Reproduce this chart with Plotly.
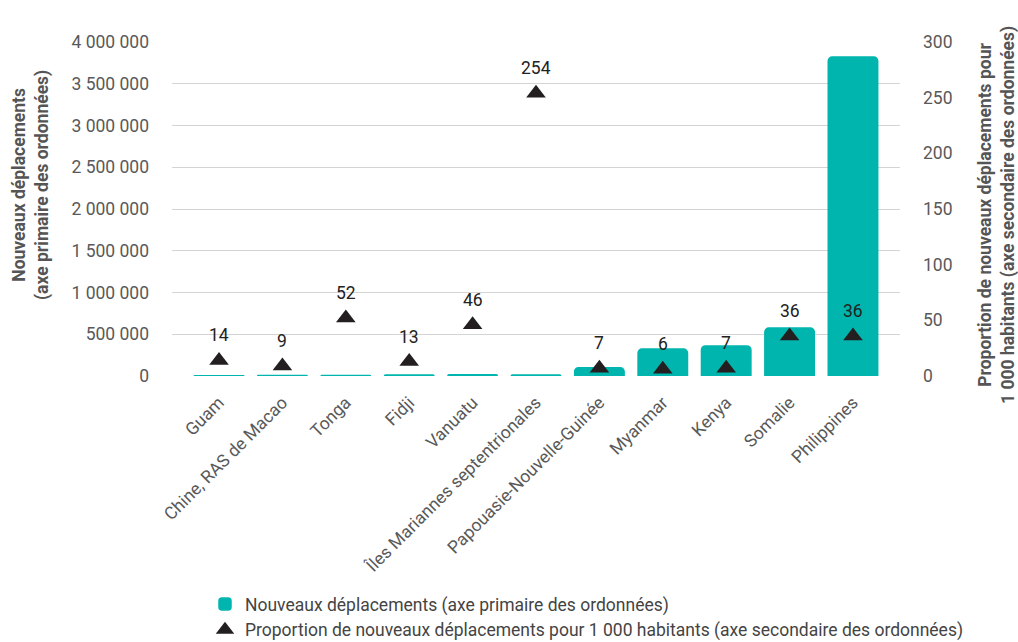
import plotly.graph_objects as go

# Countries, new displacements (bars, left axis) and displacements per 1 000 inhabitants (triangles, right axis)
countries = [
    "Guam", "Chine, RAS de Macao", "Tonga", "Fidji", "Vanuatu",
    "Îles Mariannes septentrionales", "Papouasie-Nouvelle-Guinée",
    "Myanmar", "Kenya", "Somalie", "Philippines",
]
new_displacements = [2400, 6100, 5500, 12000, 14700, 12000, 99000, 323000, 360000, 575000, 3820000]
per_1000 = [14, 9, 52, 13, 46, 254, 7, 6, 7, 36, 36]

left_ticks = [0, 500000, 1000000, 1500000, 2000000, 2500000, 3000000, 3500000, 4000000]
left_tick_text = ["0", "500 000", "1 000 000", "1 500 000", "2 000 000", "2 500 000",
                  "3 000 000", "3 500 000", "4 000 000"]
right_ticks = [0, 50, 100, 150, 200, 250, 300]

TEAL = "#00b5ad"
GRID = "#d4d4d4"
TICK_GREY = "#595959"
FONT = "Roboto"
FS = 17.5

# plot area in pixels
L, R, T, B = 172, 118, 42, 266
W, H = 1018, 642
plot_w = W - L - R
plot_h = H - T - B


def px_x(x):
    return (x - L) / plot_w


def px_y(y):
    return (H - B - y) / plot_h


fig = go.Figure()

fig.add_trace(go.Bar(
    x=countries,
    y=new_displacements,
    name="Nouveaux déplacements (axe primaire des ordonnées)",
    marker=dict(color=TEAL, line=dict(color=TEAL, width=1.5), cornerradius=4),
    yaxis="y",
    hoverinfo="x+y",
))

fig.add_trace(go.Scatter(
    x=countries,
    y=per_1000,
    name="Proportion de nouveaux déplacements pour 1 000 habitants (axe secondaire des ordonnées)",
    mode="markers",
    marker=dict(symbol="triangle-up", size=17, color="#231f20"),
    yaxis="y2",
))

# value labels above each triangle
for c, v in zip(countries, per_1000):
    fig.add_annotation(
        x=c, y=v, xref="x", yref="y2",
        text=str(v), showarrow=False, yshift=25, yanchor="middle",
        font=dict(family=FONT, size=FS, color="#222222"),
    )

# axis titles
fig.add_annotation(
    x=px_x(31), y=px_y(185), xref="paper", yref="paper", showarrow=False,
    xanchor="center", yanchor="middle",
    text="<b>Nouveaux déplacements<br>(axe primaire des ordonnées)</b>",
    textangle=-90, font=dict(family=FONT, size=FS, color="#555555"),
)
fig.add_annotation(
    x=px_x(997), y=px_y(215), xref="paper", yref="paper", showarrow=False,
    xanchor="center", yanchor="middle",
    text="<b>Proportion de nouveaux déplacements pour<br>1 000 habitants (axe secondaire des ordonnées)</b>",
    textangle=-90, font=dict(family=FONT, size=FS, color="#555555"),
)

fig.update_layout(
    width=W, height=H,
    margin=dict(l=L, r=R, t=T, b=B, autoexpand=False),
    paper_bgcolor="white", plot_bgcolor="white",
    font=dict(family=FONT, size=FS, color=TICK_GREY),
    bargap=0.22,
    showlegend=True,
    legend=dict(
        orientation="v", x=px_x(205), xanchor="left", y=px_y(586), yanchor="top",
        font=dict(family=FONT, size=FS, color="#444444"),
        tracegroupgap=0,
    ),
    xaxis=dict(
        tickangle=-45, showgrid=False, showline=False, zeroline=False, automargin=False,
        ticklabelstandoff=12,
        tickfont=dict(family=FONT, size=FS, color=TICK_GREY),
    ),
    yaxis=dict(
        range=[0, 4000000], tickvals=left_ticks, ticktext=left_tick_text, automargin=False,
        showgrid=True, gridcolor=GRID, gridwidth=1, zeroline=False, showline=False,
        ticklabelstandoff=22,
        tickfont=dict(family=FONT, size=FS, color=TICK_GREY),
    ),
    yaxis2=dict(
        range=[0, 300], tickvals=right_ticks, overlaying="y", side="right", automargin=False,
        showgrid=False, zeroline=False, showline=False,
        ticklabelstandoff=22,
        tickfont=dict(family=FONT, size=FS, color=TICK_GREY),
    ),
)

fig.write_html("out.html")
